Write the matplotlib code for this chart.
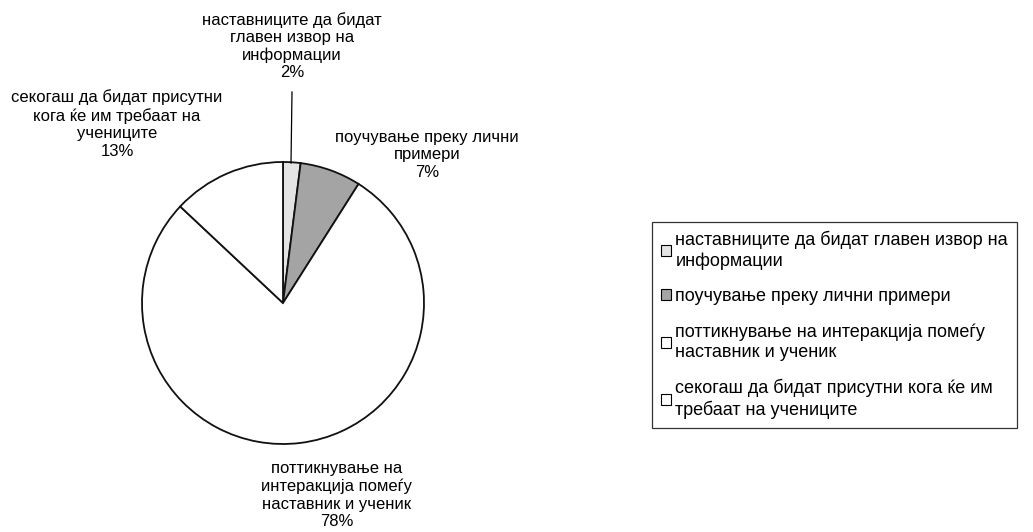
import matplotlib.pyplot as plt
from matplotlib.patches import Patch

plt.rcParams['font.family'] = ['Liberation Sans', 'DejaVu Sans']

categories = [
    'наставниците да бидат главен извор на\nинформации',
    'поучување преку лични примери',
    'поттикнување на интеракција помеѓу\nнаставник и ученик',
    'секогаш да бидат присутни кога ќе им\nтребаат на учениците',
]
slice_labels = [
    'наставниците да бидат\nглавен извор на\nинформации',
    'поучување преку лични\nпримери',
    'поттикнување на\nинтеракција помеѓу\nнаставник и ученик',
    'секогаш да бидат присутни\nкога ќе им требаат на\nучениците',
]
values = [2, 7, 78, 13]
colors = ['#e4e4e4', '#a4a4a4', '#ffffff', '#ffffff']

W, H = 1033, 532
cx, cy, r = 283, 303, 141  # pie centre / radius in pixels

fig = plt.figure(figsize=(W / 100, H / 100), dpi=100)
ax = fig.add_axes([0, 0, 1, 1])

wedges, _ = ax.pie(values, colors=colors, startangle=90, counterclock=False,
                   radius=1, wedgeprops=dict(edgecolor='#111111', linewidth=1.3))
ax.set_xlim(-cx / r, (W - cx) / r)
ax.set_ylim(-(H - cy) / r, cy / r)
ax.set_aspect('equal')
ax.axis('off')

# label positions in pixels (centre of text block)
label_pos = [(292, 46), (427, 155), (337, 495), (117, 124)]
for lab, v, (px, py) in zip(slice_labels, values, label_pos):
    ax.text((px - cx) / r, (cy - py) / r, f'{lab}\n{v}%', ha='center', va='center',
            fontsize=12, linespacing=1.2)

# leader line for the small slice
ax.plot([(292 - cx) / r, (291 - cx) / r], [(cy - 92) / r, (cy - 163) / r],
        color='black', lw=0.9)

handles = [Patch(facecolor=c, edgecolor='black', linewidth=0.8) for c in colors]
leg = fig.legend(handles, categories, loc='upper left',
                 bbox_to_anchor=(652 / W, 1 - 222 / H), fontsize=13,
                 frameon=True, fancybox=False, edgecolor='black',
                 handlelength=0.55, handleheight=0.55, handletextpad=0.25,
                 labelspacing=1.0, borderpad=0.5, borderaxespad=0)
leg.get_frame().set_linewidth(0.9)
for t in leg.get_texts():
    t.set_linespacing(1.25)

fig.savefig('out.png', dpi=100)
